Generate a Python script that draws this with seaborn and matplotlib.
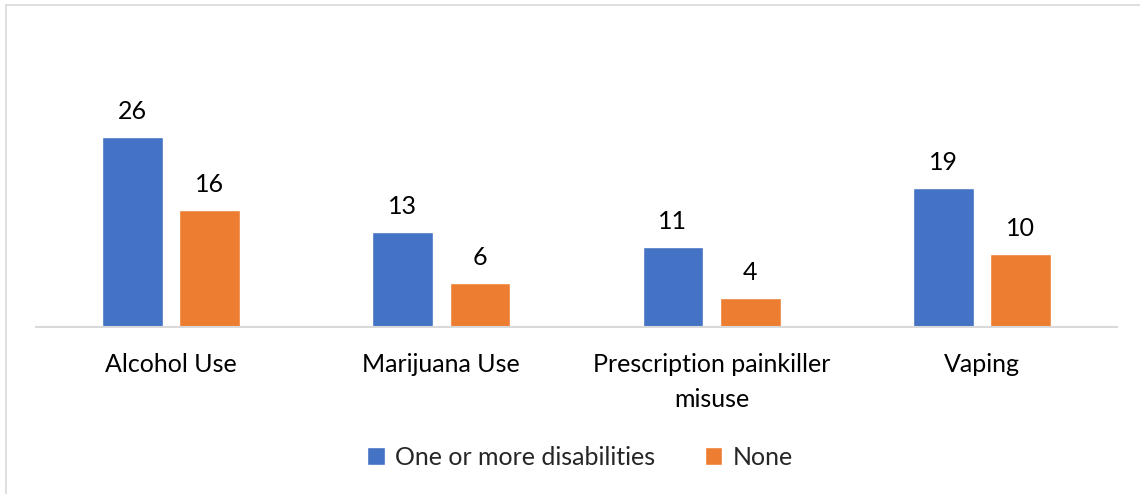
import matplotlib
matplotlib.use("Agg")
import matplotlib.pyplot as plt
from matplotlib.lines import Line2D
from matplotlib.patches import Patch
import seaborn as sns
import pandas as pd

# Data
categories = ["Alcohol Use", "Marijuana Use", "Prescription painkiller\nmisuse", "Vaping"]
groups = ["One or more disabilities", "None"]
disab_vals = [26, 13, 11, 19]
none_vals = [16, 6, 4, 10]

colors = ["#4472C4", "#ED7D31"]

df = pd.DataFrame({
    "category": categories * 2,
    "group": [groups[0]] * 4 + [groups[1]] * 4,
    "value": disab_vals + none_vals,
})

sns.set_style("white")
plt.rcParams["font.family"] = ["Lato", "DejaVu Sans"]

W, H = 1140, 494
fig = plt.figure(figsize=(W / 100, H / 100), dpi=100)
ax = fig.add_axes([36 / W, (H - 327) / H, 1081 / W, 219 / H])

sns.barplot(data=df, x="category", y="value", hue="group", order=categories,
            hue_order=groups, palette=colors, width=0.573, gap=0.215,
            saturation=1, ax=ax, legend=False)

ax.set_xlim(-0.5, 3.5)
ax.set_ylim(0, 30)
for c in ax.containers:
    ax.bar_label(c, padding=10, fontsize=18, color="black", clip_on=False)

sns.despine(ax=ax, left=True, top=True, right=True)
ax.spines["bottom"].set_color("#D9D9D9")
ax.spines["bottom"].set_linewidth(1.5)
ax.set_yticks([])
ax.set_xlabel("")
ax.set_ylabel("")
ax.tick_params(axis="x", length=0, pad=19, labelsize=18, labelcolor="black")
for t in ax.get_xticklabels():
    t.set_verticalalignment("top")
    t.set_linespacing(1.6)

handles = [Patch(facecolor=colors[0]), Patch(facecolor=colors[1])]
fig.legend(handles, groups, loc="center", bbox_to_anchor=(580 / W, (H - 457) / H),
           ncol=2, frameon=False, fontsize=18, handlelength=0.7, handleheight=0.7,
           handletextpad=0.4, columnspacing=2.0)

# chart border (only top and left visible in the crop)
fig.add_artist(Line2D([6 / W, 6 / W], [0, 1 - 5 / H], transform=fig.transFigure,
                      color="#D9D9D9", lw=1.2))
fig.add_artist(Line2D([6 / W, 1], [1 - 5 / H, 1 - 5 / H], transform=fig.transFigure,
                      color="#D9D9D9", lw=1.2))

fig.savefig("out.png", dpi=100, facecolor="white")
